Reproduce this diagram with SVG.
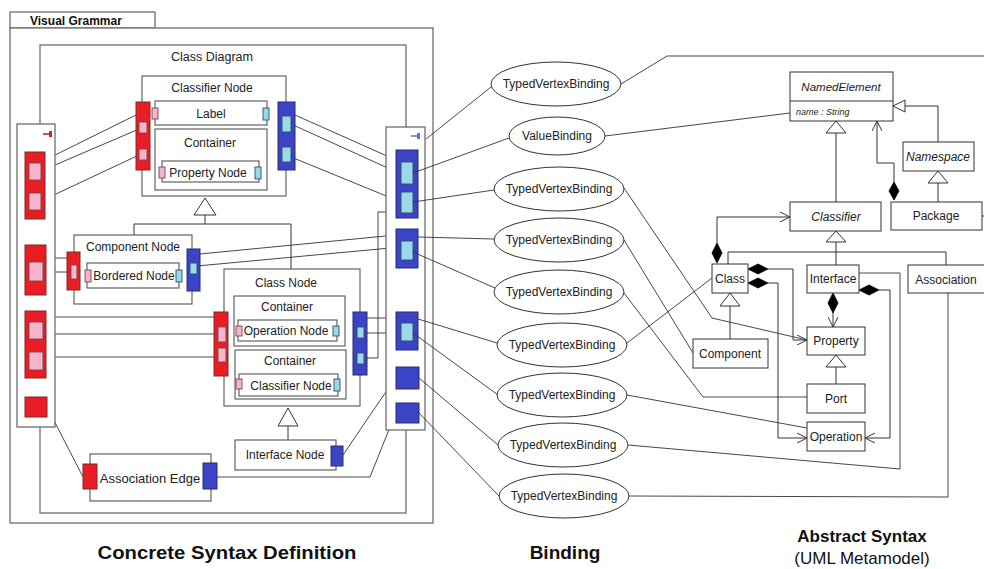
<svg xmlns="http://www.w3.org/2000/svg" width="984" height="569" viewBox="0 0 984 569">
<style>
text{font-family:"Liberation Sans",Arial,sans-serif;fill:#222}
.t{font-size:12px;text-anchor:middle}
.fr{fill:#fff;stroke:#6e6e6e;stroke-width:1.3}
.bx{fill:#fff;stroke:#555;stroke-width:1.1}
.red{fill:#ea1d25;stroke:#7a2a2a;stroke-width:1}
.blue{fill:#3b44c6;stroke:#2a2a70;stroke-width:1}
.pk{fill:#f7b3c9;stroke:#6a4a55;stroke-width:0.9}
.cy{fill:#9bd8ea;stroke:#2f4f60;stroke-width:0.9}
.cn{fill:none;stroke:#333;stroke-width:0.9}
.el{fill:#fff;stroke:#333;stroke-width:1}
.u{fill:#fff;stroke:#333;stroke-width:1}
.ul{fill:none;stroke:#333;stroke-width:1}
.gen{fill:#fff;stroke:#333;stroke-width:1}
.dia{fill:#000;stroke:#000;stroke-width:0.8}
.it{font-style:italic}
</style>
<defs>
<marker id="open" viewBox="0 0 10 10" refX="10" refY="5" markerWidth="10" markerHeight="10" markerUnits="userSpaceOnUse" orient="auto">
<path d="M0,0 L10,5 L0,10" fill="none" stroke="#333" stroke-width="1"/>
</marker>
</defs>

<!-- Visual Grammar frame -->
<g id="visual-grammar">
<rect class="fr" x="10" y="12" width="145" height="16"/>
<text x="30" y="25" style="font-size:12px;font-weight:bold;fill:#111">Visual Grammar</text>
<rect class="fr" x="10" y="28" width="423" height="495"/>
</g>
<g id="class-diagram">
<rect class="fr" x="40" y="45" width="366" height="468"/>
<text class="t" x="212" y="61" style="font-size:12.5px">Class Diagram</text>
</g>

<!-- connectors inside visual grammar -->
<g id="connectors-vg">
<path class="cn" d="M45,160L136,115M41,171L139,129M41,201L139,155M147,123L152,115M147,161L159,171M269,114L282,124M261,173L282,157M295,115L396,160M291,124L401,174M291,157L401,202"/>
<path class="cn" d="M46,258L67,258M43,272L71,272M77,272L85,276M182,276L190,268M200,254L396,235M197,266L401,247"/>
<path class="cn" d="M46,317L214,317M43,334L218,334M43,357L218,357M226,334L236,331M226,355L236,384M339,331L357,332M340,385L357,358M367,318L396,318M364,333L401,333"/>
<path class="cn" d="M364,358H378V212H396"/>
<path class="cn" d="M343,455L396,377M217,477H370L396,412M47,407L83,477"/>
</g>

<!-- generalizations in visual grammar -->
<g id="vg-generalizations">
<path class="ul" d="M205,215V224M134,235V224H291V269"/>
<path class="gen" d="M205,198L194,215H216Z"/>
<path class="ul" d="M288,426V440"/>
<path class="gen" d="M288,408L278,426H298Z"/>
</g>

<!-- left port panel -->
<g id="left-panel">
<rect class="fr" x="17" y="124" width="38" height="303"/>
<path d="M43,134H50" stroke="#c0282d" stroke-width="1.6"/>
<rect x="49" y="131" width="3" height="6" fill="#c0282d"/>
<rect class="red" x="25" y="152" width="20" height="67"/>
<rect class="pk" x="29" y="163" width="12" height="17"/>
<rect class="pk" x="29" y="193" width="12" height="17"/>
<rect class="red" x="25" y="245" width="21" height="50"/>
<rect class="pk" x="29" y="262" width="14" height="19"/>
<rect class="red" x="25" y="311" width="21" height="67"/>
<rect class="pk" x="29" y="322" width="14" height="17"/>
<rect class="pk" x="29" y="352" width="14" height="18"/>
<rect class="red" x="25" y="397" width="22" height="20"/>
</g>

<!-- right port panel -->
<g id="right-panel">
<rect class="fr" x="386" y="127" width="39" height="303"/>
<path d="M411,136H418" stroke="#5a7cc0" stroke-width="1.6"/>
<rect x="417" y="133" width="3" height="6" fill="#5a7cc0"/>
<rect class="blue" x="396" y="150" width="22" height="68"/>
<rect class="cy" x="401" y="162" width="12" height="22"/>
<rect class="cy" x="401" y="192" width="12" height="21"/>
<rect class="blue" x="396" y="229" width="22" height="39"/>
<rect class="cy" x="401" y="241" width="12" height="19"/>
<rect class="blue" x="396" y="312" width="22" height="38"/>
<rect class="cy" x="401" y="323" width="12" height="18"/>
<rect class="blue" x="396" y="367" width="23" height="22"/>
<rect class="blue" x="396" y="403" width="23" height="20"/>
</g>

<g id="classifier-node">
<rect class="bx" x="142" y="76" width="144" height="120"/>
<text class="t" x="212" y="92">Classifier Node</text>
<rect class="bx" x="155" y="101" width="112" height="24"/>
<text class="t" x="211" y="118">Label</text>
<rect class="bx" x="155" y="129" width="112" height="61"/>
<text class="t" x="210" y="147">Container</text>
<rect class="bx" x="162" y="161" width="97" height="21"/>
<text class="t" x="208" y="177">Property Node</text>
<rect class="pk" x="152" y="108" width="6" height="11"/>
<rect class="cy" x="263" y="108" width="6" height="12"/>
<rect class="pk" x="159" y="167" width="6" height="11"/>
<rect class="cy" x="255" y="167" width="6" height="12"/>
<rect class="red" x="136" y="102" width="14" height="68"/>
<rect class="pk" x="139" y="122" width="8" height="11"/>
<rect class="pk" x="139" y="149" width="8" height="11"/>
<rect class="blue" x="278" y="102" width="17" height="68"/>
<rect class="cy" x="282" y="116" width="9" height="16"/>
<rect class="cy" x="282" y="147" width="9" height="15"/>
</g>

<g id="component-node">
<rect class="bx" x="74" y="235" width="118" height="69"/>
<text class="t" x="133" y="251">Component Node</text>
<rect class="bx" x="87" y="263" width="92" height="25"/>
<text class="t" x="134" y="280">Bordered Node</text>
<rect class="red" x="67" y="252" width="13" height="38"/>
<rect class="pk" x="71" y="265" width="6" height="14"/>
<rect class="pk" x="85" y="270" width="6" height="12"/>
<rect class="cy" x="176" y="270" width="6" height="12"/>
<rect class="blue" x="187" y="249" width="13" height="42"/>
<rect class="cy" x="190" y="263" width="7" height="11"/>
</g>

<g id="class-node">
<rect class="bx" x="224" y="269" width="136" height="137"/>
<text class="t" x="286" y="287">Class Node</text>
<rect class="bx" x="234" y="296" width="111" height="50"/>
<text class="t" x="287" y="311">Container</text>
<rect class="bx" x="238" y="320" width="99" height="21"/>
<text class="t" x="286" y="335">Operation Node</text>
<rect class="pk" x="236" y="326" width="6" height="10"/>
<rect class="cy" x="333" y="326" width="6" height="10"/>
<rect class="bx" x="235" y="350" width="111" height="49"/>
<text class="t" x="290" y="365">Container</text>
<rect class="bx" x="239" y="374" width="99" height="22"/>
<text class="t" x="291" y="390">Classifier Node</text>
<rect class="pk" x="236" y="379" width="6" height="10"/>
<rect class="cy" x="334" y="379" width="6" height="12"/>
<rect class="red" x="214" y="312" width="14" height="64"/>
<rect class="pk" x="218" y="327" width="8" height="15"/>
<rect class="pk" x="218" y="348" width="8" height="14"/>
<rect class="blue" x="353" y="312" width="14" height="63"/>
<rect class="cy" x="357" y="327" width="7" height="11"/>
<rect class="cy" x="357" y="353" width="7" height="11"/>
</g>

<g id="interface-node">
<rect class="bx" x="235" y="440" width="101" height="30"/>
<text class="t" x="285" y="459">Interface Node</text>
<rect class="blue" x="331" y="446" width="12" height="20"/>
</g>

<g id="association-edge">
<rect class="bx" x="90" y="454" width="121" height="47"/>
<text class="t" x="150" y="483" style="font-size:13px">Association Edge</text>
<rect class="red" x="83" y="464" width="14" height="25"/>
<rect class="blue" x="203" y="463" width="14" height="26"/>
</g>

<!-- binding connectors -->
<g id="connectors-binding">
<path class="cn" d="M426,139L491,87M413,173L509,138M413,202L494,190M418,237L494,239M413,252L495,288M418,319L497,343M413,333L498,395M419,378L498,445M419,413L499,496"/>
<path class="cn" d="M621,84L667,56H984M605,136L790,113M624,188L712,318L807,340M624,240L693,353M624,293L703,397H807M627,343L712,278M627,395L807,428M628,445L900,469V273H859M629,496L948,497V293"/>
</g>

<g id="b1"><ellipse class="el" cx="556" cy="84" rx="65" ry="22"/><text class="t" x="556" y="88">TypedVertexBinding</text></g>
<g id="b2"><ellipse class="el" cx="557" cy="136" rx="48" ry="19"/><text class="t" x="557" y="140">ValueBinding</text></g>
<g id="b3"><ellipse class="el" cx="559" cy="189" rx="65" ry="22"/><text class="t" x="559" y="193">TypedVertexBinding</text></g>
<g id="b4"><ellipse class="el" cx="559" cy="240" rx="65" ry="22"/><text class="t" x="559" y="244">TypedVertexBinding</text></g>
<g id="b5"><ellipse class="el" cx="559" cy="292" rx="65" ry="22"/><text class="t" x="559" y="296">TypedVertexBinding</text></g>
<g id="b6"><ellipse class="el" cx="562" cy="345" rx="65" ry="22"/><text class="t" x="562" y="349">TypedVertexBinding</text></g>
<g id="b7"><ellipse class="el" cx="562" cy="395" rx="65" ry="22"/><text class="t" x="562" y="399">TypedVertexBinding</text></g>
<g id="b8"><ellipse class="el" cx="563" cy="445" rx="65" ry="22"/><text class="t" x="563" y="449">TypedVertexBinding</text></g>
<g id="b9"><ellipse class="el" cx="564" cy="496" rx="65" ry="22"/><text class="t" x="564" y="500">TypedVertexBinding</text></g>

<!-- UML connectors -->
<g id="connectors-uml">
<path class="ul" d="M938,142V106H905"/>
<path class="gen" d="M893,106L905,100V112Z"/>
<path class="ul" d="M938,202V183"/>
<path class="gen" d="M938,171L928,183H948Z"/>
<path class="ul" d="M836,202V133"/>
<path class="gen" d="M836,121L826,133H846Z"/>
<path class="ul" d="M836,242V265M728,264V252H946V265"/>
<path class="gen" d="M836,231L826,242H846Z"/>
<path class="ul" d="M730,306V339"/>
<path class="gen" d="M730,293L720,306H740Z"/>
<path class="ul" d="M836,367V384"/>
<path class="gen" d="M836,355L826,367H846Z"/>
<path class="ul" d="M894,182V163H877V121" marker-end="url(#open)"/>
<path class="dia" d="M894,182L899,191L894,200L889,191Z"/>
<path class="ul" d="M717,243V217H790" marker-end="url(#open)"/>
<path class="dia" d="M717,243L722,253L717,263L712,253Z"/>
<path class="ul" d="M768,269H793V340H807" marker-end="url(#open)"/>
<path class="dia" d="M748,269L758,264L768,269L758,274Z"/>
<path class="ul" d="M768,283H778V438H807" marker-end="url(#open)"/>
<path class="dia" d="M748,283L758,278L768,283L758,288Z"/>
<path class="ul" d="M833,313V327" marker-end="url(#open)"/>
<path class="dia" d="M833,293L838,303L833,313L828,303Z"/>
<path class="ul" d="M879,290H890V438H865" marker-end="url(#open)"/>
<path class="dia" d="M859,290L869,285L879,290L869,295Z"/>
</g>

<g id="named-element">
<rect class="u" x="790" y="72" width="103" height="49"/>
<line x1="790" y1="101" x2="893" y2="101" stroke="#333"/>
<text class="t it" x="841" y="91" style="font-size:11.5px">NamedElement</text>
<text class="it" x="796" y="115" style="font-size:9px">name : String</text>
</g>
<g id="namespace"><rect class="u" x="903" y="142" width="71" height="29"/><text class="t it" x="938" y="161">Namespace</text></g>
<g id="package"><rect class="u" x="891" y="202" width="91" height="28"/><text class="t" x="936" y="220">Package</text><line x1="982" y1="216" x2="984" y2="216" stroke="#333"/></g>
<g id="classifier"><rect class="u" x="790" y="202" width="91" height="29"/><text class="t it" x="836" y="221">Classifier</text></g>
<g id="class"><rect class="u" x="712" y="264" width="36" height="29"/><text class="t" x="730" y="283">Class</text></g>
<g id="interface"><rect class="u" x="807" y="265" width="52" height="28"/><text class="t" x="833" y="283">Interface</text></g>
<g id="association"><rect class="u" x="908" y="265" width="80" height="28"/><text class="t" x="946" y="284">Association</text></g>
<g id="component"><rect class="u" x="693" y="339" width="75" height="29"/><text class="t" x="730" y="358">Component</text></g>
<g id="property"><rect class="u" x="807" y="327" width="58" height="28"/><text class="t" x="836" y="345">Property</text></g>
<g id="port"><rect class="u" x="807" y="384" width="58" height="29"/><text class="t" x="836" y="403">Port</text></g>
<g id="operation"><rect class="u" x="807" y="422" width="58" height="29"/><text class="t" x="836" y="441">Operation</text></g>

<g id="captions">
<text x="227" y="559" text-anchor="middle" style="font-size:19px;font-weight:bold;fill:#111" textLength="259" lengthAdjust="spacingAndGlyphs">Concrete Syntax Definition</text>
<text x="565" y="559" text-anchor="middle" style="font-size:19px;font-weight:bold;fill:#111">Binding</text>
<text x="862" y="542" text-anchor="middle" style="font-size:17px;font-weight:bold;fill:#111">Abstract Syntax</text>
<text x="862" y="564" text-anchor="middle" style="font-size:17px;fill:#111">(UML Metamodel)</text>
</g>
</svg>
